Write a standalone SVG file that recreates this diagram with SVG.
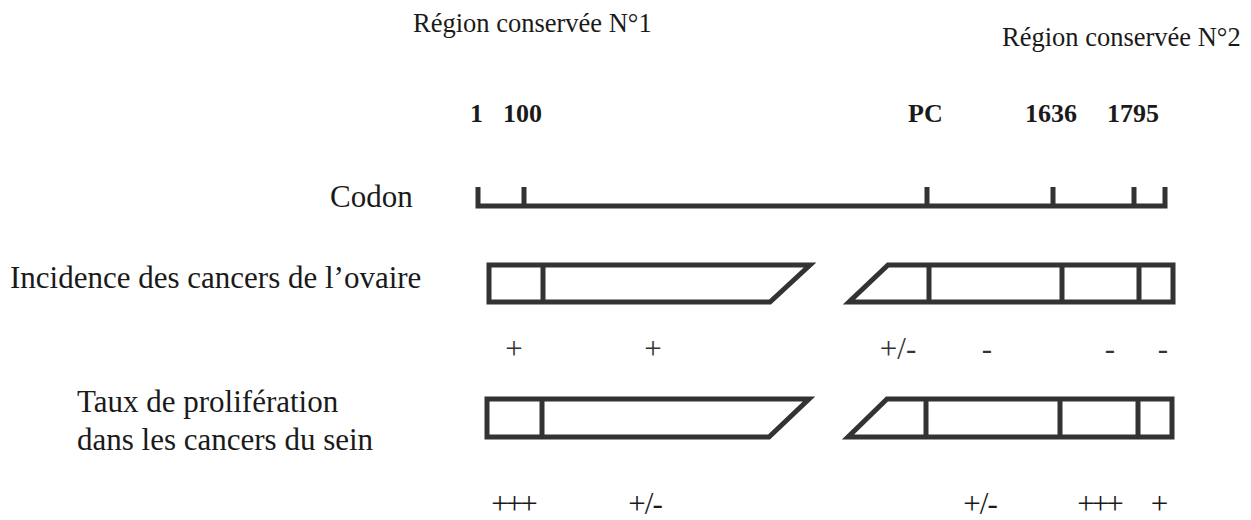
<svg xmlns="http://www.w3.org/2000/svg" width="1251" height="520" viewBox="0 0 1251 520">
<style>
text{font-family:"Liberation Serif","Times New Roman",serif;fill:#1a1a1a}
.lbl{font-size:31px}
.reg{font-size:26.5px}
.num{font-size:26px;font-weight:bold}
.sym{font-size:31px;text-anchor:middle;fill:#333}
.sym2{font-size:31px;text-anchor:middle;letter-spacing:-1px}
.tight{letter-spacing:-3px}
.shape{fill:none;stroke:#333;stroke-width:5;stroke-linejoin:miter}
.tick{stroke:#333;stroke-width:5}
</style>
<rect width="1251" height="520" fill="#fff"/>
<g id="titles">
<text class="reg" x="413" y="32">Région conservée N°1</text>
<text class="reg" x="1002" y="46">Région conservée N°2</text>
</g>
<g id="numbers">
<text class="num" x="470" y="122">1</text>
<text class="num" x="503" y="122">100</text>
<text class="num" x="908" y="122">PC</text>
<text class="num" x="1025" y="122">1636</text>
<text class="num" x="1107" y="122">1795</text>
</g>
<g id="codon">
<text class="lbl" x="330" y="207">Codon</text>
<path class="shape" d="M478,187 V206 H1165 V187"/>
<path class="tick" d="M524,187 V206 M927,187 V206 M1053,187 V206 M1134,187 V206"/>
</g>
<g id="ovaire">
<text class="lbl" x="10" y="288">Incidence des cancers de l’ovaire</text>
<path class="shape" d="M489,265 H810 L770,302 H489 Z M543,265 V302"/>
<path class="shape" d="M888,265 H1173 V302 H849 Z M929,265 V302 M1062,265 V302 M1139,265 V302"/>
</g>
<g id="ovaire-values">
<text class="sym" x="514" y="359">+</text>
<text class="sym" x="653" y="359">+</text>
<text class="sym" x="898" y="359">+/-</text>
<text class="sym" x="987" y="359">-</text>
<text class="sym" x="1110" y="359">-</text>
<text class="sym" x="1163" y="359">-</text>
</g>
<g id="sein">
<text class="lbl" x="77" y="412">Taux de prolifération</text>
<text class="lbl" x="77" y="450">dans les cancers du sein</text>
<path class="shape" d="M487,399 H809 L769,437 H487 Z M542,399 V437"/>
<path class="shape" d="M887,399 H1172 V437 H848 Z M926,399 V437 M1060,399 V437 M1138,399 V437"/>
</g>
<g id="sein-values">
<text class="sym2 tight" x="513" y="514">+++</text>
<text class="sym2" x="645" y="514">+/-</text>
<text class="sym2" x="980" y="514">+/-</text>
<text class="sym2 tight" x="1099" y="514">+++</text>
<text class="sym2" x="1159" y="514">+</text>
</g>
<g id="connectors"></g>
</svg>
